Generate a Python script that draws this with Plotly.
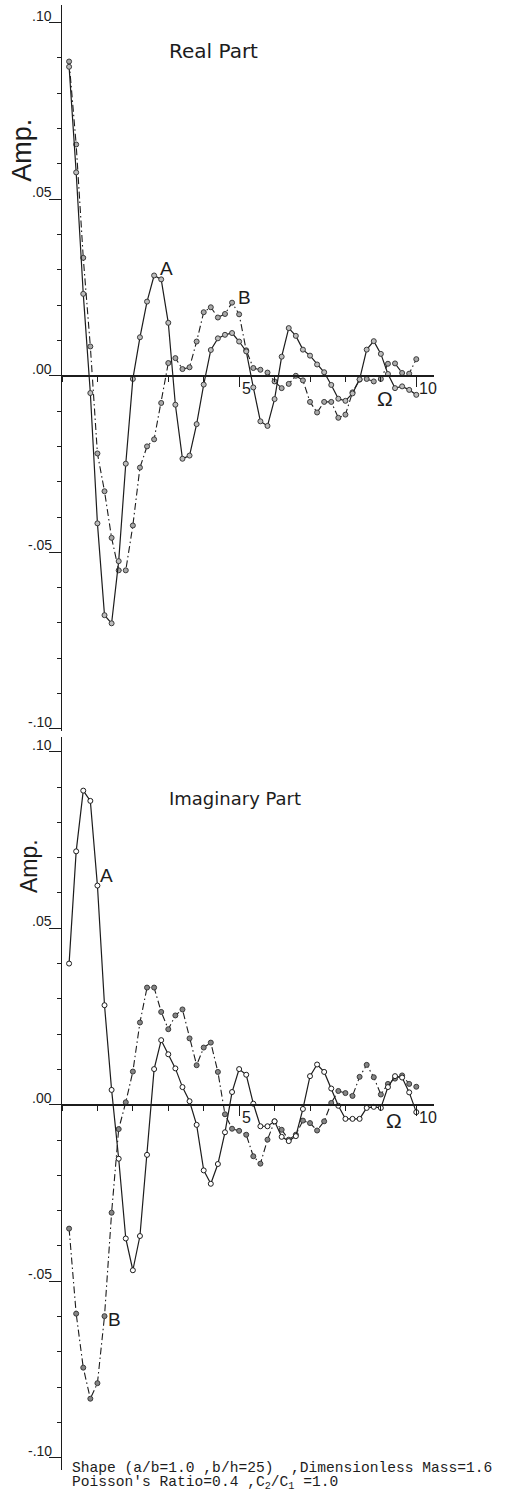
import plotly.graph_objects as go

# ---------------- data ----------------
omega = [0.2, 0.4, 0.6, 0.8, 1.0, 1.2, 1.4, 1.6, 1.8, 2.0,
         2.2, 2.4, 2.6, 2.8, 3.0, 3.2, 3.4, 3.6, 3.8, 4.0,
         4.2, 4.4, 4.6, 4.8, 5.0, 5.2, 5.4, 5.6, 5.8, 6.0,
         6.2, 6.4, 6.6, 6.8, 7.0, 7.2, 7.4, 7.6, 7.8, 8.0,
         8.2, 8.4, 8.6, 8.8, 9.0, 9.2, 9.4, 9.6, 9.8, 10.0]

real_A = [0.0875, 0.0576, 0.0232, -0.0049, -0.0418, -0.0678, -0.0701, -0.0525, -0.0249, -0.0009,
          0.0109, 0.0210, 0.0284, 0.0273, 0.0150, -0.0082, -0.0235, -0.0226, -0.0137, -0.0025,
          0.0073, 0.0106, 0.0116, 0.0121, 0.0097, 0.0069, -0.0033, -0.0129, -0.0142, -0.0066,
          0.0054, 0.0135, 0.0113, 0.0074, 0.0057, 0.0032, 0.0010, -0.0026, -0.0065, -0.0071,
          -0.0050, -0.0010, 0.0074, 0.0098, 0.0062, 0.0005, -0.0035, -0.0030, -0.0040, -0.0054]

real_B = [0.0890, 0.0655, 0.0334, 0.0083, -0.0220, -0.0327, -0.0459, -0.0551, -0.0551, -0.0424,
          -0.0260, -0.0200, -0.0180, -0.0077, 0.0036, 0.0050, 0.0019, 0.0024, 0.0097, 0.0180,
          0.0194, 0.0165, 0.0175, 0.0207, 0.0174, 0.0072, 0.0022, 0.0017, 0.0009, -0.0016,
          -0.0035, -0.0023, 0.0000, -0.0013, -0.0074, -0.0104, -0.0074, -0.0074, -0.0119, -0.0110,
          -0.0047, -0.0011, -0.0009, -0.0016, -0.0009, 0.0034, 0.0035, 0.0008, 0.0006, 0.0047]

imag_A = [0.0400, 0.0718, 0.0890, 0.0861, 0.0621, 0.0282, 0.0042, -0.0153, -0.0379, -0.0469,
          -0.0372, -0.0142, 0.0101, 0.0183, 0.0143, 0.0103, 0.0050, 0.0010, -0.0057, -0.0186,
          -0.0224, -0.0168, -0.0078, 0.0036, 0.0101, 0.0085, 0.0003, -0.0061, -0.0061, -0.0047,
          -0.0091, -0.0103, -0.0089, -0.0012, 0.0081, 0.0114, 0.0093, 0.0046, -0.0003, -0.0040,
          -0.0040, -0.0040, -0.0009, -0.0006, -0.0009, 0.0050, 0.0081, 0.0077, 0.0035, -0.0021]

imag_B = [-0.0351, -0.0592, -0.0745, -0.0833, -0.0789, -0.0599, -0.0306, -0.0069, 0.0007, 0.0094,
          0.0233, 0.0332, 0.0332, 0.0263, 0.0214, 0.0253, 0.0270, 0.0188, 0.0112, 0.0162,
          0.0176, 0.0093, -0.0027, -0.0068, -0.0074, -0.0085, -0.0146, -0.0167, -0.0099, -0.0047,
          -0.0071, -0.0099, -0.0085, -0.0045, -0.0052, -0.0073, -0.0047, 0.0005, 0.0039, 0.0033,
          0.0025, 0.0079, 0.0113, 0.0078, 0.0029, 0.0059, 0.0074, 0.0083, 0.0059, 0.0051]

y_tick_vals = [0.10, 0.05, 0.00, -0.05, -0.10]
y_tick_text = [".10", ".05", ".00", "-.05", "-.10"]
x_tick_vals = [5, 10]
x_tick_text = ["5", "10"]

panel_titles = ["Real Part", "Imaginary Part"]
footer_lines = ["Shape (a/b=1.0 ,b/h=25)  ,Dimensionless Mass=1.6",
                "Poisson's Ratio=0.4 ,C<sub>2</sub>/C<sub>1</sub> =1.0"]

# ---------------- layout geometry ----------------
W, H = 511, 1498
ML, MR, MT, MB = 62, 77, 5, 28
PW = W - ML - MR
PH = H - MT - MB

xr = [0, 10.5]
top_dom = [1 - (731 - MT) / PH, 1.0]
bot_dom = [0.0, (1470 - 737) / PH]
top_rng = [-0.1006, 0.105]
bot_rng = [-0.1035, 0.1042]


def zero_pos(dom, rng):
    return dom[0] + (0 - rng[0]) / (rng[1] - rng[0]) * (dom[1] - dom[0])


INK = "#1c1c1c"
MARK_LINE = "#3a3a3a"
DASH = "7px,3px,1.5px,3px"

fig = go.Figure()

# top panel (real part)
fig.add_trace(go.Scatter(x=omega, y=real_B, mode="lines+markers", xaxis="x", yaxis="y",
                         line=dict(color=INK, width=1.1, dash=DASH),
                         marker=dict(size=5, color="#a8a8a8", line=dict(color=MARK_LINE, width=1)),
                         showlegend=False))
fig.add_trace(go.Scatter(x=omega, y=real_A, mode="lines+markers", xaxis="x", yaxis="y",
                         line=dict(color=INK, width=1.2),
                         marker=dict(size=5, color="#bdbdbd", line=dict(color=MARK_LINE, width=1)),
                         showlegend=False))
# bottom panel (imaginary part)
fig.add_trace(go.Scatter(x=omega, y=imag_B, mode="lines+markers", xaxis="x2", yaxis="y2",
                         line=dict(color=INK, width=1.1, dash=DASH),
                         marker=dict(size=5, color="#858585", line=dict(color=MARK_LINE, width=1)),
                         showlegend=False))
fig.add_trace(go.Scatter(x=omega, y=imag_A, mode="lines+markers", xaxis="x2", yaxis="y2",
                         line=dict(color=INK, width=1.2),
                         marker=dict(size=5, color="white", line=dict(color=INK, width=1)),
                         showlegend=False))


def xaxis_cfg(dom, rng):
    return dict(domain=[0, 1], range=xr, anchor="free", position=zero_pos(dom, rng),
                automargin=False,
                showline=True, linecolor=INK, linewidth=1.6, showgrid=False, zeroline=False,
                ticks="outside", tickvals=x_tick_vals, ticklen=10, tickwidth=1.2, tickcolor=INK,
                showticklabels=False,
                minor=dict(ticks="outside", tick0=0, dtick=1, ticklen=5, tickwidth=1, tickcolor=INK))


def yaxis_cfg(dom, rng, xname):
    return dict(domain=dom, range=rng, anchor=xname, automargin=False,
                showline=True, linecolor=INK, linewidth=1.4,
                showgrid=False, zeroline=False, ticks="outside", tickvals=y_tick_vals,
                ticklen=12, tickwidth=1.2, tickcolor=INK, showticklabels=False,
                minor=dict(ticks="outside", tick0=0, dtick=0.01, ticklen=4, tickwidth=1, tickcolor=INK))


ann = []
LBL = "Liberation Sans, Arial, sans-serif"
for yref, xref in (("y", "x"), ("y2", "x2")):
    for v, t in zip(y_tick_vals, y_tick_text):
        ann.append(dict(xref="paper", x=0, yref=yref, y=v, text=t, showarrow=False,
                        xanchor="right", yanchor="middle", xshift=-8, yshift=7,
                        font=dict(family=LBL, size=14, color=INK)))
    for v, t in zip(x_tick_vals, x_tick_text):
        ann.append(dict(xref=xref, x=v, yref=yref, y=0, text=t, showarrow=False,
                        xanchor="left", yanchor="middle", xshift=1, yshift=-13,
                        font=dict(family=LBL, size=16, color=INK)))

# Omega axis titles
ann.append(dict(xref="x", x=9.11, yref="y", y=0, text="Ω", showarrow=False, yshift=-23,
                font=dict(family=LBL, size=21, color=INK)))
ann.append(dict(xref="x2", x=9.37, yref="y2", y=0, text="Ω", showarrow=False, yshift=-16,
                font=dict(family=LBL, size=21, color=INK)))

# Amp. labels
ann.append(dict(xref="paper", x=-40 / PW, yref="y", y=(376 - 151) / 3531.0, text="Amp.",
                textangle=-90, showarrow=False, xanchor="center", yanchor="middle",
                font=dict(family=LBL, size=27, color=INK)))
ann.append(dict(xref="paper", x=-33 / PW, yref="y2", y=(1105.7 - 867) / 3530.0, text="Amp.",
                textangle=-90, showarrow=False, xanchor="center", yanchor="middle",
                font=dict(family=LBL, size=23, color=INK)))

# panel titles
TF = "DejaVu Sans, sans-serif"
ann.append(dict(xref="x", x=(166 - 61.5) / 35.43, yref="y", y=(376 - 51) / 3531.0,
                text=panel_titles[0], showarrow=False, xanchor="left", yanchor="middle",
                font=dict(family=TF, size=20, color=INK)))
ann.append(dict(xref="x2", x=(166 - 61.5) / 35.43, yref="y2", y=(1105.7 - 799) / 3530.0,
                text=panel_titles[1], showarrow=False, xanchor="left", yanchor="middle",
                font=dict(family=TF, size=18, color=INK)))

# curve labels
for xr_, yr_, xv, yv, t in (("x", "y", 2.94, 0.0305, "A"), ("x", "y", 5.14, 0.0223, "B"),
                            ("x2", "y2", 1.25, 0.0649, "A"), ("x2", "y2", 1.48, -0.0608, "B")):
    ann.append(dict(xref=xr_, x=xv, yref=yr_, y=yv, text=t, showarrow=False,
                    font=dict(family=LBL, size=19, color=INK)))

# footer
MONO = "Liberation Mono, Courier New, monospace"
ann.append(dict(xref="paper", x=(70 - ML) / PW, yref="paper", y=0, text=footer_lines[0],
                showarrow=False, xanchor="left", yanchor="middle", yshift=2,
                font=dict(family=MONO, size=14.6, color=INK)))
ann.append(dict(xref="paper", x=(70 - ML) / PW, yref="paper", y=0, text=footer_lines[1],
                showarrow=False, xanchor="left", yanchor="middle", yshift=-13,
                font=dict(family=MONO, size=14.6, color=INK)))

fig.update_layout(
    width=W, height=H, margin=dict(l=ML, r=MR, t=MT, b=MB, autoexpand=False),
    paper_bgcolor="white", plot_bgcolor="white", showlegend=False,
    xaxis=xaxis_cfg(top_dom, top_rng), yaxis=yaxis_cfg(top_dom, top_rng, "x"),
    xaxis2=xaxis_cfg(bot_dom, bot_rng), yaxis2=yaxis_cfg(bot_dom, bot_rng, "x2"),
    annotations=ann,
)

# remove the browser's default 8px page margin so the figure sits at the window origin
fig.write_html("out.html", config={"displayModeBar": False},
               post_script="document.body.style.margin='0';")
